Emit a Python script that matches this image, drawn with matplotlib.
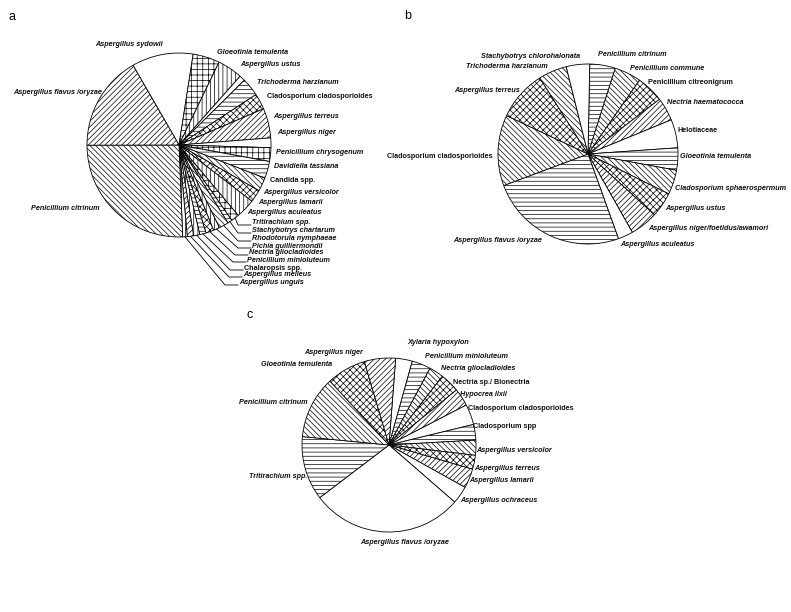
import matplotlib
matplotlib.use('Agg')
import matplotlib.pyplot as plt
import numpy as np

plt.rcParams['hatch.linewidth'] = 0.5
plt.rcParams['font.family'] = ['Liberation Sans', 'DejaVu Sans']

W, H = 791, 612

# ---- panel a: share of isolates (%) ----
a_names = ['Aspergillus sydowii', 'Gloeotinia temulenta', 'Aspergillus ustus',
           'Trichoderma harzianum', 'Cladosporium cladosporioides', 'Aspergillus terreus',
           'Aspergillus niger', 'Penicillium chrysogenum', 'Davidiella tassiana',
           'Candida spp.', 'Aspergillus versicolor', 'Aspergillus lamarii',
           'Aspergillus aculeatus', 'Tritirachium spp.', 'Stachybotrys chartarum',
           'Rhodotorula nymphaeae', 'Pichia guilliermondii', 'Nectria gliocladioides',
           'Penicillium minioluteum', 'Chalaropsis spp.', 'Aspergillus melleus',
           'Aspergillus unguis', 'Penicillium citrinum', 'Aspergillus flavus /oryzae']
a_values = [10.8, 4.7, 4.4, 1.0, 3.2, 2.8, 5.2, 1.7, 2.4, 3.0, 2.4, 2.2, 3.4,
            1.4, 0.8, 1.7, 1.1, 1.4, 1.1, 1.1, 1.1, 0.8, 25.6, 16.7]

# ---- panel b ----
b_names = ['Penicillium citrinum', 'Penicillium commune', 'Penicillium citreonigrum',
           'Nectria haematococca', 'Helotiaceae', 'Gloeotinia temulenta',
           'Cladosporium sphaerospermum', 'Aspergillus ustus',
           'Aspergillus niger/foetidus/awamori', 'Aspergillus aculeatus',
           'Aspergillus flavus /oryzae', 'Cladosporium cladosporioides',
           'Aspergillus terreus', 'Trichoderma harzianum', 'Stachybotrys chlorohalonata']
b_values = [4.6, 4.8, 4.9, 4.2, 5.1, 4.0, 4.4, 4.5, 5.0, 2.7, 24.8, 12.7, 9.0, 5.1, 4.2]

# ---- panel c ----
c_names = ['Xylaria hypoxylon', 'Penicillium minioluteum', 'Nectria gliocladioides',
           'Nectria sp./ Bionectria', 'Hypocrea lixii', 'Cladosporium cladosporioides',
           'Cladosporium spp', 'Aspergillus versicolor', 'Aspergillus terreus',
           'Aspergillus lamarii', 'Aspergillus ochraceus', 'Aspergillus flavus /oryzae',
           'Tritirachium spp.', 'Penicillium citrinum', 'Gloeotinia temulenta',
           'Aspergillus niger']
c_values = [3.1, 3.5, 2.7, 3.6, 3.3, 3.8, 2.9, 2.8, 2.6, 3.6, 3.3, 28.3, 11.9, 11.6, 7.3, 5.8]

upright = {'Cladosporium cladosporioides', 'Candida spp.', 'Chalaropsis spp.',
           'Penicillium citreonigrum', 'Helotiaceae', 'Nectria sp./ Bionectria',
           'Cladosporium spp'}

# hatch patterns per slice
D = '\\' * 6
F = '/' * 6
X = 'x' * 5
HZ = '-' * 4
V = '|' * 4
C = '+' * 3
a_hatch = [None, C, V, None, HZ, X, F, None, C, HZ, D, X, V,
           C, HZ, D, V, X, HZ, V, F, V, D, F]
b_hatch = [HZ, D, X, F, None, HZ, D, X, F, None, HZ, D, X, D, None]
c_hatch = [None, HZ, D, X, F, None, HZ, D, X, F, None, None, HZ, D, X, F]

# label layout (pixel coords from top-left)
a_pos = [(163, 45, 'right'), (217, 52, 'left'), (240, 65, 'left'), (257, 82, 'left'),
         (267, 97, 'left'), (273, 116, 'left'), (277, 133, 'left'), (276, 152, 'left'),
         (274, 166, 'left'), (270, 180, 'left'), (263, 192, 'left'), (258, 202, 'left'),
         (247, 212, 'left'), (252, 223, 'left'), (252, 231, 'left'), (252, 239, 'left'),
         (252, 246, 'left'), (249, 253, 'left'), (247, 260, 'left'), (244, 268, 'left'),
         (243, 275, 'left'), (239, 283, 'left'), (100, 209, 'right'), (102, 93, 'right')]
b_pos = [(598, 55, 'left'), (630, 69, 'left'), (648, 83, 'left'), (667, 103, 'left'),
         (677, 130, 'left'), (680, 157, 'left'), (675, 188, 'left'), (665, 208, 'left'),
         (648, 229, 'left'), (620, 245, 'left'), (542, 240, 'right'), (493, 157, 'right'),
         (520, 90, 'right'), (548, 66, 'right'), (580, 56, 'right')]
c_pos = [(407, 343, 'left'), (425, 357, 'left'), (441, 369, 'left'), (453, 382, 'left'),
         (460, 395, 'left'), (468, 409, 'left'), (473, 427, 'left'), (476, 450, 'left'),
         (474, 468, 'left'), (469, 481, 'left'), (460, 500, 'left'), (405, 543, 'center'),
         (307, 477, 'right'), (308, 403, 'right'), (332, 365, 'right'), (363, 352, 'right')]


def draw_pie(ax, values, names, hatches, pos, center, radius, start, leaders=()):
    cx, cy = center
    wedges, _ = ax.pie(values, startangle=start, counterclock=False,
                       center=(cx, H - cy), radius=radius, colors=['white'] * len(values),
                       wedgeprops=dict(edgecolor='black', linewidth=0.6), frame=True)
    for w, h in zip(wedges, hatches):
        if h:
            w.set_hatch(h)
    for i, (name, (x, y, ha)) in enumerate(zip(names, pos)):
        st = 'normal' if name in upright else 'italic'
        ax.text(x, H - y, name, ha=ha, va='center', fontsize=5.2, style=st,
                weight='bold', color='#111111')
        if i in leaders:
            # leader line: wedge edge -> elbow -> label
            w = wedges[i]
            t = np.deg2rad((w.theta1 + w.theta2) / 2)
            px = cx + radius * np.cos(t)
            py = H - cy + radius * np.sin(t)
            yl = H - y - 2
            ax.plot([px, x - 14, x - 1], [py, yl, yl], color='black', lw=0.6)


fig = plt.figure(figsize=(7.91, 6.12), dpi=100)
ax = fig.add_axes([0, 0, 1, 1])

draw_pie(ax, a_values, a_names, a_hatch, a_pos, (179, 145), 92, 120,
         leaders=range(13, 22))
draw_pie(ax, b_values, b_names, b_hatch, b_pos, (588, 154), 90, 88.9)
draw_pie(ax, c_values, c_names, c_hatch, c_pos, (389, 445), 87, 85.6)

for letter, (x, y) in zip(['a', 'b', 'c'], [(12, 17), (408, 16), (250, 315)]):
    ax.text(x, H - y, letter, fontsize=9, ha='center', va='center')

ax.set_xlim(0, W)
ax.set_ylim(0, H)
ax.set_aspect('equal')
ax.axis('off')

fig.savefig('out.png', dpi=100)
